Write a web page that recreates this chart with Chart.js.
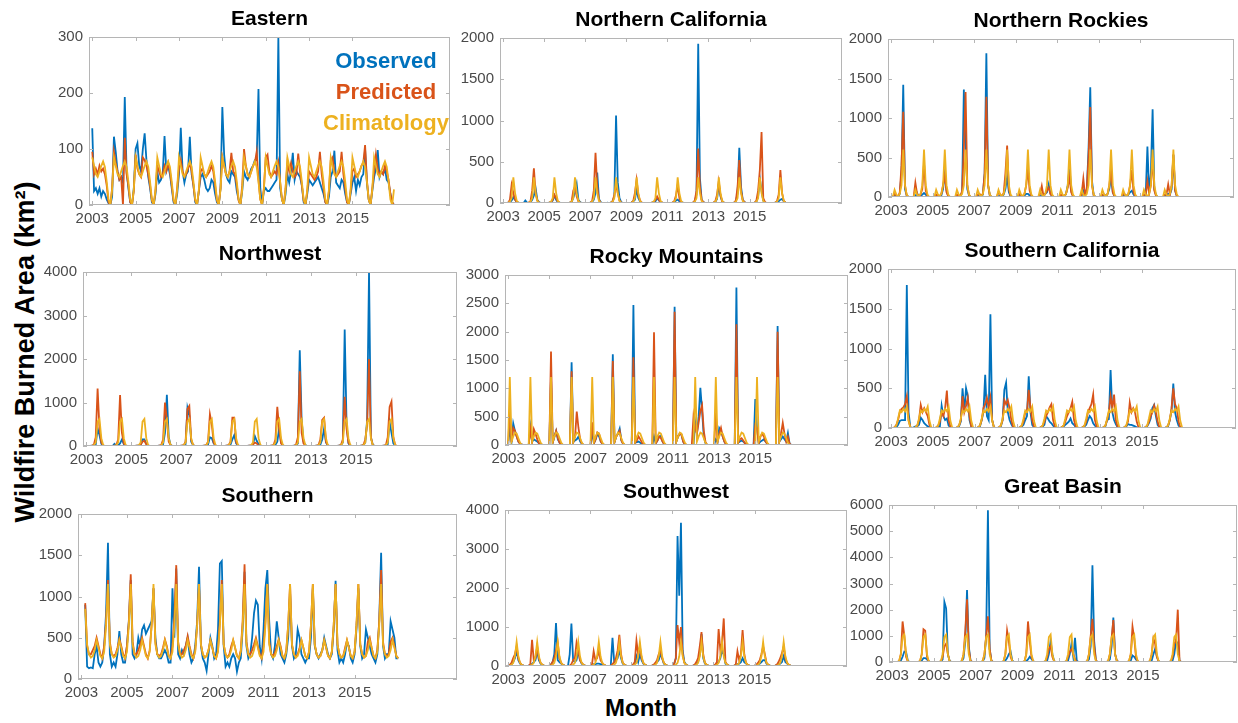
<!DOCTYPE html>
<html>
<head>
<meta charset="utf-8">
<title>Wildfire Burned Area</title>
<script src="https://cdn.jsdelivr.net/npm/chart.js@4.4.1/dist/chart.umd.min.js"></script>
<style>
  html, body { margin: 0; padding: 0; background: #fff; overflow: hidden; }
  body { width: 1238px; height: 723px; position: relative; font-family: "Liberation Sans", Arial, sans-serif; }
  .panel { position: absolute; }
  #ylabel { position: absolute; left: 25px; top: 352px; transform: translate(-50%, -50%) rotate(-90deg); font-weight: bold; font-size: 27px; white-space: nowrap; color: #000; }
  #xlabel { position: absolute; left: 641px; top: 708px; transform: translate(-50%, -50%); font-weight: bold; font-size: 24px; color: #000; }
</style>
</head>
<body>
<div id="ylabel">Wildfire Burned Area (km²)</div>
<div id="xlabel">Month</div>
<script>
// monthly data, Jan 2003 .. Dec 2016 (one row per year)
const years = [2003, 2004, 2005, 2006, 2007, 2008, 2009, 2010, 2011, 2012, 2013, 2014, 2015, 2016];
const yearTicks = [2003, 2005, 2007, 2009, 2011, 2013, 2015];
const seriesNames = ["Observed", "Predicted", "Climatology"];
const seriesColors = ["#0072BD", "#D95319", "#EDB120"];

// ---- Eastern ----
const easternTicks = [0, 100, 200, 300];
const easternObs = [
  137,25,30,20,30,15,25,20,10,3,0,15,
  122,95,60,45,50,40,193,60,30,5,0,30,
  100,110,70,60,100,128,80,50,30,5,0,20,
  60,40,45,55,123,60,70,55,30,5,0,20,
  55,138,60,40,55,60,122,55,35,5,0,25,
  50,55,45,30,25,30,45,40,20,5,0,30,
  175,90,55,45,40,60,55,50,25,10,0,25,
  60,50,45,55,65,70,80,80,207,30,0,25,
  30,25,25,30,35,40,45,300,30,10,0,20,
  55,40,60,93,45,60,55,50,35,5,0,20,
  45,40,35,40,45,50,40,30,20,5,0,15,
  50,60,97,40,35,30,45,40,20,5,0,20,
  40,50,25,45,35,50,55,100,40,10,0,25,
  50,65,98,50,60,55,65,45,40,20,5,0
];
const easternPred = [
  95,55,65,55,70,60,65,55,35,5,0,30,
  95,75,60,45,50,0,120,55,35,5,0,25,
  90,65,55,50,85,80,70,55,35,8,0,25,
  70,60,50,55,70,60,75,60,35,8,0,30,
  65,80,60,50,55,65,75,60,35,8,0,25,
  60,65,55,50,55,60,70,60,35,8,0,30,
  85,70,55,50,60,93,60,55,35,8,0,35,
  100,70,55,50,60,70,75,95,45,10,0,30,
  85,90,60,50,55,60,55,75,40,10,0,30,
  75,60,75,60,50,55,92,60,35,8,0,25,
  60,55,50,45,50,60,95,55,30,5,0,25,
  80,85,60,50,55,60,95,55,30,5,0,25,
  60,65,50,55,60,70,75,107,45,10,0,30,
  60,90,65,55,60,55,70,60,45,20,5,0
];
const easternClim = [
  85,70,55,50,60,70,78,68,42,10,0,28,
  85,70,55,50,60,70,78,68,42,10,0,28,
  85,70,55,50,60,70,78,68,42,10,0,28,
  85,70,55,50,60,70,78,68,42,10,0,28,
  85,70,55,50,60,70,78,68,42,10,0,28,
  85,70,55,50,60,70,78,68,42,10,0,28,
  85,70,55,50,60,70,78,68,42,10,0,28,
  85,70,55,50,60,70,78,68,42,10,0,28,
  85,70,55,50,60,70,78,68,42,10,0,28,
  85,70,55,50,60,70,78,68,42,10,0,28,
  85,70,55,50,60,70,78,68,42,10,0,28,
  85,70,55,50,60,70,78,68,42,10,0,28,
  85,70,55,50,60,70,78,68,42,10,0,28,
  85,70,55,50,60,70,78,68,42,10,0,28
];

// ---- Northern California ----
const norCalTicks = [0, 500, 1000, 1500, 2000];
const norCalObs = [
  0,0,0,5,10,30,70,40,10,5,0,0,
  0,30,5,0,10,40,90,180,40,10,0,0,
  0,0,0,5,10,30,90,40,10,5,0,0,
  0,0,0,5,10,60,130,230,40,10,0,0,
  0,0,0,5,10,40,120,370,50,10,0,0,
  0,5,0,5,20,80,1060,250,60,10,0,0,
  0,0,0,5,20,40,170,60,20,5,0,0,
  0,0,0,5,10,20,60,30,10,5,0,0,
  0,0,0,5,10,30,40,20,10,5,0,0,
  0,0,0,5,20,100,1930,300,40,10,0,0,
  0,0,0,5,15,50,220,80,20,5,0,0,
  0,0,0,5,20,120,670,200,40,10,0,0,
  0,0,0,5,15,80,300,150,30,5,0,0,
  0,0,0,5,10,20,40,50,20,5,0,0
];
const norCalPred = [
  0,0,0,5,40,220,120,40,10,0,0,0,
  0,0,0,5,20,150,420,120,30,5,0,0,
  0,0,0,5,10,40,100,60,15,5,0,0,
  0,0,0,5,15,150,200,80,20,5,0,0,
  0,0,0,5,20,150,610,200,40,5,0,0,
  0,0,0,5,20,100,220,120,30,5,0,0,
  0,0,0,5,20,120,280,100,30,5,0,0,
  0,0,0,5,10,40,80,40,10,5,0,0,
  0,0,0,5,20,90,220,60,0,0,0,0,
  0,0,0,5,30,150,660,200,40,10,0,0,
  0,0,0,5,20,100,260,100,20,5,0,0,
  0,0,0,5,30,200,520,150,40,10,0,0,
  0,0,0,5,30,150,400,860,60,10,0,0,
  0,0,0,5,20,100,400,120,20,5,0,0
];
const norCalClim = [
  0,0,2,5,15,60,310,120,25,5,0,0,
  0,0,2,5,15,60,310,120,25,5,0,0,
  0,0,2,5,15,60,310,120,25,5,0,0,
  0,0,2,5,15,60,310,120,25,5,0,0,
  0,0,2,5,15,60,310,120,25,5,0,0,
  0,0,2,5,15,60,310,120,25,5,0,0,
  0,0,2,5,15,60,310,120,25,5,0,0,
  0,0,2,5,15,60,310,120,25,5,0,0,
  0,0,2,5,15,60,310,120,25,5,0,0,
  0,0,2,5,15,60,310,120,25,5,0,0,
  0,0,2,5,15,60,310,120,25,5,0,0,
  0,0,2,5,15,60,310,120,25,5,0,0,
  0,0,2,5,15,60,310,120,25,5,0,0,
  0,0,2,5,15,60,310,120,25,5,0,0
];

// ---- Northern Rockies ----
const norRockTicks = [0, 500, 1000, 1500, 2000];
const norRockObs = [
  0,0,30,10,0,40,300,1420,100,20,0,0,
  0,0,10,50,0,10,30,50,30,5,0,0,
  0,0,10,20,5,20,100,300,80,10,0,0,
  0,0,10,20,10,60,1360,700,100,20,0,0,
  0,0,10,30,20,30,300,1820,150,20,0,0,
  0,0,10,20,5,30,100,250,60,10,0,0,
  0,0,10,20,5,20,40,40,20,5,0,0,
  0,0,10,20,10,40,60,160,40,10,0,0,
  0,0,10,20,5,40,150,380,80,10,0,0,
  0,0,10,80,20,100,600,1390,200,20,0,0,
  0,0,20,30,10,40,100,250,60,10,0,0,
  0,0,10,30,10,30,60,80,30,5,0,0,
  0,0,10,20,640,50,300,1110,100,20,0,0,
  0,0,10,20,40,30,100,530,80,10,0,0
];
const norRockPred = [
  0,0,40,20,0,60,400,1080,150,20,0,0,
  0,0,180,40,5,30,100,430,80,10,0,0,
  0,0,30,20,10,40,150,280,60,10,0,0,
  0,0,30,20,10,80,600,1330,150,20,0,0,
  0,0,30,40,20,40,300,1270,150,20,0,0,
  0,0,60,30,10,50,300,650,100,10,0,0,
  0,0,40,20,10,40,150,350,80,10,0,0,
  0,0,40,140,10,40,80,120,40,10,0,0,
  0,0,30,20,10,40,120,250,60,10,0,0,
  0,0,30,230,20,100,500,1140,150,20,0,0,
  0,0,30,30,10,40,150,330,60,10,0,0,
  0,0,40,30,10,40,150,340,60,10,0,0,
  0,0,30,30,200,40,150,500,80,10,0,0,
  0,0,30,30,160,30,150,540,80,10,0,0
];
const norRockClim = [
  0,0,90,30,10,40,150,600,150,30,0,0,
  0,0,90,30,10,40,150,600,150,30,0,0,
  0,0,90,30,10,40,150,600,150,30,0,0,
  0,0,90,30,10,40,150,600,150,30,0,0,
  0,0,90,30,10,40,150,600,150,30,0,0,
  0,0,90,30,10,40,150,600,150,30,0,0,
  0,0,90,30,10,40,150,600,150,30,0,0,
  0,0,90,30,10,40,150,600,150,30,0,0,
  0,0,90,30,10,40,150,600,150,30,0,0,
  0,0,90,30,10,40,150,600,150,30,0,0,
  0,0,90,30,10,40,150,600,150,30,0,0,
  0,0,90,30,10,40,150,600,150,30,0,0,
  0,0,90,30,10,40,150,600,150,30,0,0,
  0,0,90,30,10,40,150,600,150,30,0,0
];

// ---- Northwest ----
const northwestTicks = [0, 1000, 2000, 3000, 4000];
const northwestObs = [
  0,0,0,10,10,30,400,250,50,10,0,0,
  0,0,0,50,10,20,60,150,40,10,0,0,
  0,0,0,10,10,20,150,150,50,10,0,0,
  0,0,0,10,10,40,300,1180,200,20,0,0,
  0,0,0,10,10,40,880,700,100,20,0,0,
  0,0,0,10,10,30,200,180,60,10,0,0,
  0,0,0,10,10,30,150,250,60,10,0,0,
  0,0,0,10,10,30,230,120,40,10,0,0,
  0,0,0,10,10,30,100,400,80,10,0,0,
  0,0,0,10,10,60,2200,600,100,20,0,0,
  0,0,0,10,10,30,150,400,80,10,0,0,
  0,0,0,10,20,80,2680,500,60,10,0,0,
  0,0,0,10,20,80,600,4000,200,30,0,0,
  0,0,0,10,10,40,550,300,60,10,0,0
];
const northwestPred = [
  0,0,0,10,30,200,1320,400,80,10,0,0,
  0,0,0,10,20,150,1170,300,60,10,0,0,
  0,0,0,10,10,30,100,120,40,10,0,0,
  0,0,0,10,20,150,1000,600,100,20,0,0,
  0,0,0,10,20,100,850,920,150,20,0,0,
  0,0,0,10,20,100,730,500,80,10,0,0,
  0,0,0,10,20,100,650,650,100,10,0,0,
  0,0,0,10,10,30,80,60,10,0,0,0,
  0,0,0,10,20,150,900,400,60,10,0,0,
  0,0,0,10,30,200,1720,300,60,10,0,0,
  0,0,0,10,20,150,600,650,100,10,0,0,
  0,0,0,10,20,150,1130,400,80,10,0,0,
  0,0,0,10,20,150,500,2000,200,20,0,0,
  0,0,0,10,20,200,900,1020,200,20,0,0
];
const northwestClim = [
  0,0,0,5,15,80,560,620,180,20,0,0,
  0,0,0,5,15,80,560,620,180,20,0,0,
  0,0,0,5,15,80,560,620,180,20,0,0,
  0,0,0,5,15,80,560,620,180,20,0,0,
  0,0,0,5,15,80,560,620,180,20,0,0,
  0,0,0,5,15,80,560,620,180,20,0,0,
  0,0,0,5,15,80,560,620,180,20,0,0,
  0,0,0,5,15,80,560,620,180,20,0,0,
  0,0,0,5,15,80,560,620,180,20,0,0,
  0,0,0,5,15,80,560,620,180,20,0,0,
  0,0,0,5,15,80,560,620,180,20,0,0,
  0,0,0,5,15,80,560,620,180,20,0,0,
  0,0,0,5,15,80,560,620,180,20,0,0,
  0,0,0,5,15,80,560,620,180,20,0,0
];

// ---- Rocky Mountains ----
const rockyTicks = [0, 500, 1000, 1500, 2000, 2500, 3000];
const rockyObs = [
  0,300,50,380,250,150,60,20,5,0,0,0,
  0,320,60,100,80,60,30,10,0,0,0,0,
  0,1200,40,150,250,100,40,10,0,0,0,0,
  0,1460,50,80,100,150,60,20,0,0,0,0,
  0,230,30,100,200,150,60,20,0,0,0,0,
  0,1600,50,150,200,290,80,20,0,0,0,0,
  0,2470,40,50,60,40,20,10,0,0,0,0,
  0,150,30,80,150,160,60,10,0,0,0,0,
  0,2440,60,150,200,180,60,10,0,0,0,0,
  0,400,200,500,1010,600,150,30,0,0,0,0,
  0,100,50,300,250,150,60,10,0,0,0,0,
  0,2780,40,60,80,60,30,10,0,0,0,0,
  810,300,30,60,80,100,60,20,0,0,0,0,
  0,2100,60,100,150,100,60,210,20,0,0,0
];
const rockyPred = [
  0,620,50,300,250,150,60,20,5,0,0,0,
  0,280,60,280,200,100,30,10,0,0,0,0,
  0,1650,40,150,250,120,40,10,0,0,0,0,
  0,1300,50,150,590,300,100,20,0,0,0,0,
  0,400,30,100,220,200,60,20,0,0,0,0,
  0,1480,50,150,200,250,80,20,0,0,0,0,
  0,1550,40,80,150,100,40,10,0,0,0,0,
  0,1990,30,80,150,120,60,10,0,0,0,0,
  0,2350,60,150,200,180,60,10,0,0,0,0,
  500,300,200,400,600,700,250,50,0,0,0,0,
  0,570,50,200,300,150,60,10,0,0,0,0,
  0,2130,40,100,120,80,30,10,0,0,0,0,
  350,300,30,150,200,150,60,20,0,0,0,0,
  0,2000,60,200,390,200,60,150,20,0,0,0
];
const rockyClim = [
  0,1200,60,150,220,200,120,40,5,0,0,0,
  0,1200,60,150,220,200,120,40,5,0,0,0,
  0,1200,60,150,220,200,120,40,5,0,0,0,
  0,1200,60,150,220,200,120,40,5,0,0,0,
  0,1200,60,150,220,200,120,40,5,0,0,0,
  0,1200,60,150,220,200,120,40,5,0,0,0,
  0,1200,60,150,220,200,120,40,5,0,0,0,
  0,1200,60,150,220,200,120,40,5,0,0,0,
  0,1200,60,150,220,200,120,40,5,0,0,0,
  0,1200,60,150,220,200,120,40,5,0,0,0,
  0,1200,60,150,220,200,120,40,5,0,0,0,
  0,1200,60,150,220,200,120,40,5,0,0,0,
  0,1200,60,150,220,200,120,40,5,0,0,0,
  0,1200,60,150,220,200,120,40,5,0,0,0
];

// ---- Southern California ----
const soCalTicks = [0, 500, 1000, 1500, 2000];
const soCalObs = [
  0,0,0,10,40,90,100,100,100,1800,200,10,
  0,10,20,20,40,130,100,60,40,20,10,0,
  0,0,0,10,20,280,150,100,120,30,10,0,
  0,0,10,20,80,500,200,500,400,100,20,0,
  0,0,10,20,100,200,670,150,100,1430,100,10,
  0,0,10,20,100,480,570,200,100,50,10,0,
  0,0,10,20,40,100,150,650,200,40,10,0,
  0,0,10,20,40,150,120,80,60,30,10,0,
  0,0,10,20,40,60,80,120,60,40,10,0,
  0,0,10,20,40,100,150,120,60,30,10,0,
  0,0,10,20,100,110,730,200,100,50,10,0,
  0,0,10,20,50,40,40,30,20,10,0,0,
  0,0,10,20,60,120,250,290,150,40,10,0,
  0,0,10,20,100,220,560,200,100,30,10,0
];
const soCalPred = [
  0,0,10,40,100,200,240,260,300,400,100,10,
  0,0,10,30,100,290,200,250,200,150,40,0,
  0,0,10,30,80,200,150,250,470,100,20,0,
  0,0,10,30,100,400,200,280,380,150,20,0,
  0,0,10,30,100,250,300,380,250,380,100,10,
  0,0,10,30,100,350,300,350,250,100,20,0,
  0,0,10,30,80,200,200,480,250,100,20,0,
  0,0,10,30,80,150,200,260,300,100,20,0,
  0,0,10,30,80,150,200,250,330,100,20,0,
  0,0,10,30,80,200,250,300,420,100,20,0,
  0,0,10,30,100,200,400,250,420,100,20,0,
  0,0,10,30,80,320,200,250,200,80,10,0,
  0,0,10,30,80,150,200,280,200,80,10,0,
  0,0,10,30,100,250,500,300,250,80,10,0
];
const soCalClim = [
  0,0,10,30,120,220,200,240,210,270,90,10,
  0,0,10,30,120,220,200,240,210,270,90,10,
  0,0,10,30,120,220,200,240,210,270,90,10,
  0,0,10,30,120,220,200,240,210,270,90,10,
  0,0,10,30,120,220,200,240,210,270,90,10,
  0,0,10,30,120,220,200,240,210,270,90,10,
  0,0,10,30,120,220,200,240,210,270,90,10,
  0,0,10,30,120,220,200,240,210,270,90,10,
  0,0,10,30,120,220,200,240,210,270,90,10,
  0,0,10,30,120,220,200,240,210,270,90,10,
  0,0,10,30,120,220,200,240,210,270,90,10,
  0,0,10,30,120,220,200,240,210,270,90,10,
  0,0,10,30,120,220,200,240,210,270,90,10,
  0,0,10,30,120,220,200,240,210,270,90,10
];

// ---- Southern ----
const southernTicks = [0, 500, 1000, 1500, 2000];
const southernObs = [
  null,null,900,150,130,140,130,300,400,200,150,200,
  400,800,1650,300,150,200,150,300,580,300,200,200,
  400,700,1200,300,250,300,500,400,600,650,550,600,
  650,700,1100,500,300,250,250,300,350,300,200,200,
  1100,500,1340,300,250,350,300,400,500,300,200,250,
  400,700,1360,400,250,200,100,300,500,400,250,300,
  600,1400,1430,400,150,200,150,250,300,250,90,200,
  250,600,1300,400,250,300,500,800,950,900,400,250,
  600,1100,1320,700,300,250,400,700,500,300,250,200,
  300,500,1050,400,250,300,600,500,300,250,200,250,
  250,500,1100,400,300,250,300,350,500,400,300,250,
  300,600,1190,350,200,250,200,300,450,400,250,200,
  300,600,1100,400,250,300,600,500,400,300,250,200,
  300,700,1530,400,250,300,300,700,600,500,250,250
];
const southernPred = [
  null,null,920,400,300,300,350,400,500,400,300,250,
  400,700,1200,450,300,280,300,380,480,400,300,250,
  400,700,1270,450,300,300,350,420,500,400,300,250,
  350,650,1100,450,300,280,300,380,480,400,280,250,
  400,750,1380,450,300,300,350,400,520,400,300,250,
  350,650,1150,420,300,260,280,350,470,380,280,250,
  350,700,1200,420,300,260,300,400,470,380,280,250,
  350,700,1390,450,300,300,350,420,500,400,300,250,
  400,700,1150,450,300,280,320,400,480,400,280,250,
  350,650,1150,420,300,260,300,380,470,380,280,250,
  330,650,1150,420,300,260,280,350,470,380,280,250,
  330,650,1150,420,300,260,280,380,470,380,280,250,
  330,650,1150,420,300,260,280,450,500,380,280,250,
  350,700,1320,450,300,280,300,450,500,400,280,250
];
const southernClim = [
  null,null,850,420,300,260,280,350,470,380,280,250,
  330,650,1150,420,300,260,280,350,470,380,280,250,
  330,650,1150,420,300,260,280,350,470,380,280,250,
  330,650,1150,420,300,260,280,350,470,380,280,250,
  330,650,1150,420,300,260,280,350,470,380,280,250,
  330,650,1150,420,300,260,280,350,470,380,280,250,
  330,650,1150,420,300,260,280,350,470,380,280,250,
  330,650,1150,420,300,260,280,350,470,380,280,250,
  330,650,1150,420,300,260,280,350,470,380,280,250,
  330,650,1150,420,300,260,280,350,470,380,280,250,
  330,650,1150,420,300,260,280,350,470,380,280,250,
  330,650,1150,420,300,260,280,350,470,380,280,250,
  330,650,1150,420,300,260,280,350,470,380,280,250,
  330,650,1150,420,300,260,280,350,470,380,280,250
];

// ---- Southwest ----
const southwestTicks = [0, 1000, 2000, 3000, 4000];
const southwestObs = [
  10,20,40,100,200,400,150,60,30,10,5,5,
  10,20,50,100,150,380,150,60,30,10,5,5,
  10,30,100,300,1100,150,100,60,30,10,5,5,
  300,1090,150,100,150,400,150,60,30,10,5,5,
  10,20,50,50,60,60,50,40,20,10,5,5,
  10,720,100,150,200,400,200,60,30,10,5,5,
  10,30,60,250,100,300,150,60,30,10,5,5,
  10,20,50,100,150,300,200,60,30,10,5,5,
  10,50,200,3330,1800,3670,400,100,30,10,5,5,
  10,20,50,100,300,820,200,60,30,10,5,5,
  10,20,50,100,200,400,300,60,30,10,5,5,
  10,20,50,60,100,200,100,60,30,10,5,5,
  10,20,50,60,100,150,150,60,30,10,5,5,
  10,20,50,60,100,250,100,60,30,10,5,5
];
const southwestPred = [
  10,30,80,200,300,500,200,80,30,10,5,5,
  10,50,670,150,200,500,200,80,30,10,5,5,
  10,30,100,200,400,600,200,80,30,10,5,5,
  10,50,150,200,600,400,150,80,30,10,5,5,
  10,30,380,150,200,400,150,80,30,10,5,5,
  10,50,100,200,400,800,300,80,30,10,5,5,
  10,30,100,650,300,500,200,80,30,10,5,5,
  10,30,80,150,300,400,200,80,30,10,5,5,
  10,50,200,1050,600,1000,300,80,30,10,5,5,
  10,30,100,200,500,870,300,80,30,10,5,5,
  10,30,100,950,400,600,1220,100,30,10,5,5,
  10,30,380,150,300,920,300,80,30,10,5,5,
  10,30,80,150,300,500,300,80,30,10,5,5,
  10,30,100,200,330,500,200,80,30,10,5,5
];
const southwestClim = [
  5,10,30,80,250,620,250,80,30,10,5,5,
  5,10,30,80,250,620,250,80,30,10,5,5,
  5,10,30,80,250,620,250,80,30,10,5,5,
  5,10,30,80,250,620,250,80,30,10,5,5,
  5,10,30,80,250,620,250,80,30,10,5,5,
  5,10,30,80,250,620,250,80,30,10,5,5,
  5,10,30,80,250,620,250,80,30,10,5,5,
  5,10,30,80,250,620,250,80,30,10,5,5,
  5,10,30,80,250,620,250,80,30,10,5,5,
  5,10,30,80,250,620,250,80,30,10,5,5,
  5,10,30,80,250,620,250,80,30,10,5,5,
  5,10,30,80,250,620,250,80,30,10,5,5,
  5,10,30,80,250,620,250,80,30,10,5,5,
  5,10,30,80,250,620,250,80,30,10,5,5
];

// ---- Great Basin ----
const basinTicks = [0, 1000, 2000, 3000, 4000, 5000, 6000];
const basinObs = [
  0,0,0,0,10,50,200,400,380,50,0,0,
  0,0,0,0,10,50,150,150,100,20,0,0,
  0,0,0,0,20,100,2300,2050,300,50,0,0,
  0,0,0,0,20,150,800,2750,600,50,0,0,
  0,0,0,0,20,150,1000,5800,500,50,0,0,
  0,0,0,0,10,50,150,300,400,50,0,0,
  0,0,0,0,10,30,100,200,120,20,0,0,
  0,0,0,0,10,50,300,800,300,30,0,0,
  0,0,0,0,10,50,300,700,200,920,50,0,
  0,0,0,0,20,100,600,3700,800,50,0,0,
  0,0,0,0,20,100,600,1700,300,50,0,0,
  0,0,0,0,10,50,250,200,100,20,0,0,
  0,0,0,0,10,50,300,500,200,20,0,0,
  0,0,0,0,10,50,300,800,700,50,0,0
];
const basinPred = [
  0,0,0,0,20,300,1550,1000,200,30,0,0,
  0,0,0,0,20,300,1250,1200,200,30,0,0,
  0,0,0,0,20,200,600,700,300,30,0,0,
  0,0,0,0,20,300,1200,2400,500,50,0,0,
  0,0,0,0,20,300,1000,1750,500,50,0,0,
  0,0,0,0,20,300,1200,800,200,30,0,0,
  0,0,0,0,20,300,1550,800,200,30,0,0,
  0,0,0,0,20,200,500,600,200,30,0,0,
  0,0,0,0,20,200,400,500,300,100,0,0,
  0,0,0,0,20,300,1000,1650,600,50,0,0,
  0,0,0,0,20,300,900,1600,300,50,0,0,
  0,0,0,0,20,300,1350,900,200,30,0,0,
  0,0,0,0,20,300,900,700,200,30,0,0,
  0,0,0,0,20,200,700,800,2000,50,0,0
];
const basinClim = [
  0,0,0,5,30,300,950,1050,300,30,0,0,
  0,0,0,5,30,300,950,1050,300,30,0,0,
  0,0,0,5,30,300,950,1050,300,30,0,0,
  0,0,0,5,30,300,950,1050,300,30,0,0,
  0,0,0,5,30,300,950,1050,300,30,0,0,
  0,0,0,5,30,300,950,1050,300,30,0,0,
  0,0,0,5,30,300,950,1050,300,30,0,0,
  0,0,0,5,30,300,950,1050,300,30,0,0,
  0,0,0,5,30,300,950,1050,300,30,0,0,
  0,0,0,5,30,300,950,1050,300,30,0,0,
  0,0,0,5,30,300,950,1050,300,30,0,0,
  0,0,0,5,30,300,950,1050,300,30,0,0,
  0,0,0,5,30,300,950,1050,300,30,0,0,
  0,0,0,5,30,300,950,1050,300,30,0,0
];

// x position of every month
const monthX = years.flatMap(y => [0, 1, 2, 3, 4, 5, 6, 7, 8, 9, 10, 11].map(m => y + m / 12));

// panels: plot-area box [left, top, right, bottom] in page pixels
const panels = [
  { title: "Eastern", series: [easternObs, easternPred, easternClim], yTicks: easternTicks, box: [89, 37, 450, 205], legend: true },
  { title: "Northern California", series: [norCalObs, norCalPred, norCalClim], yTicks: norCalTicks, box: [500, 38, 842, 203] },
  { title: "Northern Rockies", series: [norRockObs, norRockPred, norRockClim], yTicks: norRockTicks, box: [888, 39, 1234, 197] },
  { title: "Northwest", series: [northwestObs, northwestPred, northwestClim], yTicks: northwestTicks, box: [83, 272, 457, 446] },
  { title: "Rocky Mountains", series: [rockyObs, rockyPred, rockyClim], yTicks: rockyTicks, box: [505, 275, 848, 445] },
  { title: "Southern California", series: [soCalObs, soCalPred, soCalClim], yTicks: soCalTicks, box: [888, 269, 1236, 428] },
  { title: "Southern", series: [southernObs, southernPred, southernClim], yTicks: southernTicks, box: [78, 514, 457, 679] },
  { title: "Southwest", series: [southwestObs, southwestPred, southwestClim], yTicks: southwestTicks, box: [505, 510, 847, 666] },
  { title: "Great Basin", series: [basinObs, basinPred, basinClim], yTicks: basinTicks, box: [889, 505, 1237, 662] }
];

const X_MIN = 2002.85, X_MAX = 2019.5;
const YW = 56, TH = 36, XH = 26, PAD_R = 4;
const FONT = '"Liberation Sans", Arial, Helvetica, sans-serif';
Chart.defaults.font.family = FONT;

// matlab style box with inward tick marks
const boxPlugin = {
  id: "matlabBox",
  afterDatasetsDraw(chart) {
    const { ctx, chartArea: a, scales } = chart;
    ctx.save();
    ctx.strokeStyle = "#b5b5b5";
    ctx.lineWidth = 1;
    ctx.beginPath();
    scales.x.ticks.forEach(t => {
      const px = Math.round(scales.x.getPixelForValue(t.value)) + 0.5;
      ctx.moveTo(px, a.bottom); ctx.lineTo(px, a.bottom - 4);
      ctx.moveTo(px, a.top); ctx.lineTo(px, a.top + 4);
    });
    scales.y.ticks.forEach(t => {
      const py = Math.round(scales.y.getPixelForValue(t.value)) + 0.5;
      ctx.moveTo(a.left, py); ctx.lineTo(a.left + 4, py);
      ctx.moveTo(a.right, py); ctx.lineTo(a.right - 4, py);
    });
    ctx.stroke();
    ctx.strokeRect(Math.round(a.left) + 0.5, Math.round(a.top) + 0.5, Math.round(a.width) - 1, Math.round(a.height) - 1);
    ctx.restore();
  }
};

// coloured series names inside the Eastern panel
const legendPlugin = {
  id: "insideLegend",
  afterDraw(chart) {
    const { ctx, chartArea: a } = chart;
    ctx.save();
    ctx.font = "bold 22px " + FONT;
    ctx.textAlign = "center";
    ctx.textBaseline = "middle";
    chart.data.datasets.forEach((ds, k) => {
      ctx.fillStyle = ds.borderColor;
      ctx.fillText(ds.label, a.right - 64, a.top + 25 + 31 * k);
    });
    ctx.restore();
  }
};

panels.forEach(p => {
  const [L, T, R, B] = p.box;
  const div = document.createElement("div");
  div.className = "panel";
  div.style.left = (L - YW) + "px";
  div.style.top = (T - TH) + "px";
  div.style.width = (R - L + YW + PAD_R) + "px";
  div.style.height = (B - T + TH + XH) + "px";
  const canvas = document.createElement("canvas");
  div.appendChild(canvas);
  document.body.appendChild(div);

  new Chart(canvas, {
    type: "line",
    data: {
      datasets: p.series.map((vals, k) => ({
        label: seriesNames[k],
        data: vals.map((v, i) => ({ x: monthX[i], y: v })),
        borderColor: seriesColors[k],
        backgroundColor: seriesColors[k],
        borderWidth: 1.8,
        pointRadius: 0,
        tension: 0,
        fill: false,
        order: 2 - k
      }))
    },
    options: {
      responsive: true,
      maintainAspectRatio: false,
      animation: false,
      events: [],
      layout: { padding: { left: 0, right: PAD_R, top: 0, bottom: 0 } },
      scales: {
        x: {
          type: "linear",
          min: X_MIN,
          max: X_MAX,
          grid: { display: false, drawTicks: false },
          border: { display: false },
          afterBuildTicks: s => { s.ticks = yearTicks.map(v => ({ value: v })); },
          afterFit: s => { s.height = XH; },
          ticks: { padding: 5, color: "#4a4a4a", font: { size: 15 }, maxRotation: 0, autoSkip: false, callback: v => String(v) }
        },
        y: {
          type: "linear",
          min: 0,
          max: p.yTicks[p.yTicks.length - 1],
          grid: { display: false, drawTicks: false },
          border: { display: false },
          afterBuildTicks: s => { s.ticks = p.yTicks.map(v => ({ value: v })); },
          afterFit: s => { s.width = YW; },
          ticks: { padding: 6, color: "#4a4a4a", font: { size: 15 }, autoSkip: false, callback: v => String(v) }
        }
      },
      plugins: {
        legend: { display: false },
        tooltip: { enabled: false },
        title: {
          display: true,
          text: p.title,
          fullSize: false,
          color: "#000",
          font: { size: 21, weight: "bold" },
          padding: { top: 6, bottom: 4.8 }
        }
      }
    },
    plugins: p.legend ? [boxPlugin, legendPlugin] : [boxPlugin]
  });
});
</script>
</body>
</html>
